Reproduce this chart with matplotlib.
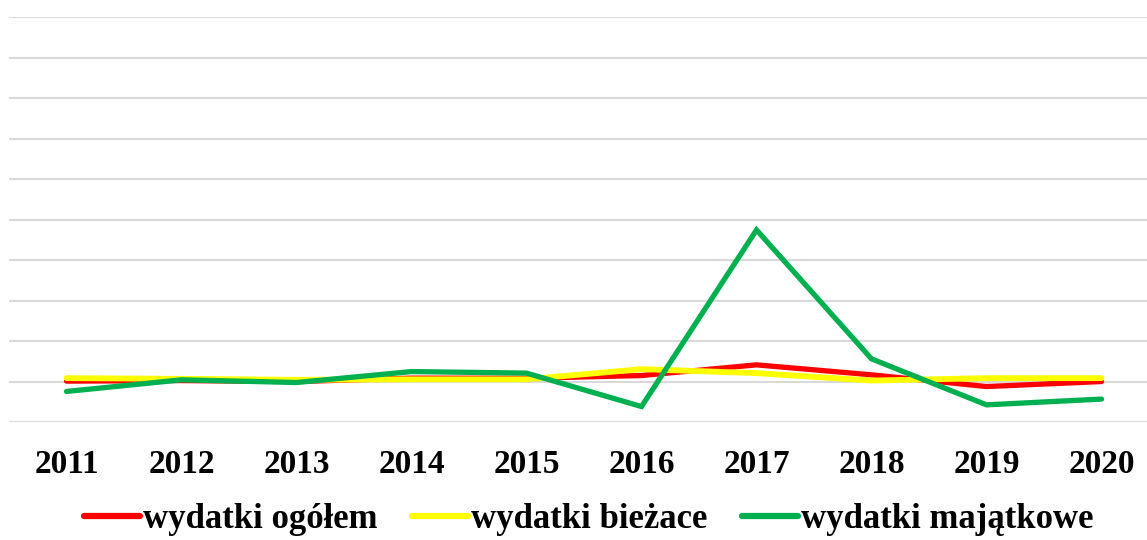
import matplotlib
matplotlib.use("Agg")
import matplotlib.pyplot as plt

years = ["2011", "2012", "2013", "2014", "2015", "2016", "2017", "2018", "2019", "2020"]
wydatki_ogolem = [1.005, 1.012, 1.000, 1.042, 1.040, 1.074, 1.206, 1.083, 0.938, 1.000]
wydatki_biezace = [1.042, 1.033, 1.021, 1.027, 1.027, 1.153, 1.104, 1.012, 1.042, 1.042]
wydatki_majatkowe = [0.877, 1.021, 0.988, 1.123, 1.104, 0.691, 2.873, 1.280, 0.712, 0.783]
labels = ["wydatki ogółem", "wydatki bieżace", "wydatki majątkowe"]
colors = ["#FF0000", "#FFFF00", "#00B050"]

plt.rcParams['font.family'] = ['Liberation Serif', 'DejaVu Serif']

fig = plt.figure(figsize=(11.47, 5.40), dpi=100)
ax = fig.add_axes([9/1147, 1 - 422/540, 1150/1147, (422 - 17.3)/540])

x = list(range(len(years)))
series = [wydatki_ogolem, wydatki_biezace, wydatki_majatkowe]
widths = [3.8, 4.2, 3.8]
for s, c, lab, w in zip(series, colors, labels, widths):
    ax.plot(x, s, color=c, lw=w, label=lab, solid_capstyle='round', solid_joinstyle='miter')

ax.set_xlim(-0.5, 9.5)
ax.set_ylim(0.5, 5.5)
ax.set_yticks([0.5 + 0.5 * i for i in range(11)])
ax.yaxis.grid(True, color="#d9d9d9", lw=1.5)
ax.set_axisbelow(True)
ax.set_yticklabels([])
ax.tick_params(axis='y', length=0)
ax.set_xticks(x)
ax.set_xticklabels(years, fontsize=24, fontweight='bold')
ax.tick_params(axis='x', length=0, pad=19.5)
for sp in ax.spines.values():
    sp.set_visible(False)

leg = fig.legend(loc='center', bbox_to_anchor=(589/1147, 1 - 520/540), ncol=3, frameon=False,
                 prop={'size': 25, 'weight': 'bold'}, handlelength=1.6, handletextpad=0.1,
                 columnspacing=1.0, borderaxespad=0, borderpad=0)
for lh in leg.get_lines():
    lh.set_linewidth(4.5)

fig.savefig("out.png", dpi=100)
